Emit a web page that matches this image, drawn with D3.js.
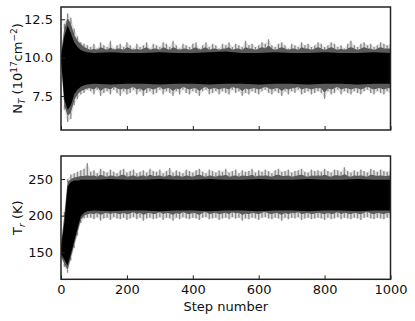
<!DOCTYPE html>
<html>
<head>
<meta charset="utf-8">
<script src="https://cdn.jsdelivr.net/npm/d3@7"></script>
<style>
  body { margin: 0; background: #fff; }
  svg text { font-family: "DejaVu Sans", sans-serif; fill: #111; }
</style>
</head>
<body>
<div id="chart"></div>
<script>
const steps = d3.range(0, 1001, 10)
const coreSteps = [0, 10, 20, 30, 40, 50, 60, 70, 80, 100, 150, 200, 250, 300, 350, 400, 450, 500,
  550, 600, 650, 700, 750, 800, 850, 900, 950, 1000]
const xTicks = [0, 200, 400, 600, 800, 1000]

// N_T panel
const nOuterHi = [10.3, 12.2, 12.9, 12.6, 11.9, 11.4, 11.0, 10.9, 10.8,
  10.7, 10.9, 10.6, 11.0, 10.8, 10.7, 11.1, 10.6, 10.8, 10.9,
  10.7, 11.0, 10.8, 10.6, 10.9, 10.7, 10.8, 11.0, 10.6, 10.9,
  10.8, 10.7, 11.0, 10.9, 10.7, 11.1, 10.8, 10.6, 10.9, 10.8,
  10.7, 10.9, 11.0, 10.6, 10.8, 11.0, 10.7, 10.9, 10.8, 10.6,
  10.9, 10.8, 11.0, 10.7, 10.9, 10.8, 10.7, 11.1, 10.8, 10.9,
  10.7, 10.8, 11.0, 10.9, 11.2, 10.8, 10.7, 10.9, 11.0, 10.8,
  10.6, 10.9, 10.8, 10.7, 11.0, 10.8, 10.9, 10.7, 10.8, 11.0,
  10.9, 10.7, 10.8, 11.0, 10.9, 10.7, 10.8, 10.6, 10.9, 11.1,
  10.8, 10.7, 10.9, 11.0, 10.8, 10.9, 10.7, 10.8, 11.0, 10.9,
  10.8, 10.9]
const nOuterLo = [9.7, 6.6, 5.8, 6.0, 6.9, 7.3, 7.6, 7.7, 7.9,
  7.8, 7.6, 7.9, 7.5, 7.7, 7.8, 7.6, 7.9, 7.7, 7.5,
  7.8, 7.6, 7.7, 7.9, 7.6, 7.8, 7.5, 7.7, 7.8, 7.6,
  7.7, 7.9, 7.6, 7.8, 7.7, 7.5, 7.8, 7.6, 7.9, 7.7,
  7.6, 7.8, 7.7, 7.5, 7.8, 7.9, 7.6, 7.7, 7.8, 7.6,
  7.8, 7.7, 7.6, 7.9, 7.7, 7.8, 7.5, 7.7, 7.6, 7.8,
  7.7, 7.6, 7.8, 7.9, 7.7, 7.6, 7.8, 7.7, 7.5, 7.8,
  7.6, 7.8, 7.7, 7.9, 7.6, 7.7, 7.8, 7.6, 7.7, 7.8,
  7.7, 7.3, 7.8, 7.6, 7.7, 7.9, 7.6, 7.8, 7.7, 7.6,
  7.8, 7.7, 7.6, 7.8, 7.9, 7.7, 7.6, 7.8, 7.7, 7.6,
  7.8, 7.7]
const nMidHi = [10.2, 11.9, 12.6, 12.2, 11.5, 11.1, 10.9, 10.7, 10.6,
  10.5, 10.6, 10.5, 10.7, 10.6, 10.5, 10.7, 10.5, 10.6, 10.6,
  10.5, 10.7, 10.6, 10.5, 10.6, 10.5, 10.6, 10.7, 10.5, 10.6,
  10.6, 10.5, 10.7, 10.6, 10.5, 10.7, 10.6, 10.5, 10.6, 10.6,
  10.5, 10.6, 10.7, 10.5, 10.6, 10.7, 10.5, 10.6, 10.6, 10.5,
  10.6, 10.6, 10.7, 10.5, 10.6, 10.6, 10.5, 10.7, 10.6, 10.6,
  10.5, 10.6, 10.7, 10.6, 10.8, 10.6, 10.5, 10.6, 10.7, 10.6,
  10.5, 10.6, 10.6, 10.5, 10.7, 10.6, 10.6, 10.5, 10.6, 10.7,
  10.6, 10.5, 10.6, 10.7, 10.6, 10.5, 10.6, 10.5, 10.6, 10.7,
  10.6, 10.5, 10.6, 10.7, 10.6, 10.6, 10.5, 10.6, 10.7, 10.6,
  10.6, 10.6]
const nMidLo = [9.8, 6.9, 6.2, 6.4, 7.2, 7.6, 7.8, 7.9, 8.0,
  8.0, 7.9, 8.1, 7.8, 8.0, 8.0, 7.9, 8.1, 8.0, 7.9,
  8.0, 7.9, 8.0, 8.1, 7.9, 8.0, 7.8, 8.0, 8.0, 7.9,
  8.0, 8.1, 7.9, 8.0, 8.0, 7.8, 8.0, 7.9, 8.1, 8.0,
  7.9, 8.0, 8.0, 7.8, 8.0, 8.1, 7.9, 8.0, 8.0, 7.9,
  8.0, 8.0, 7.9, 8.1, 8.0, 8.0, 7.8, 8.0, 7.9, 8.0,
  8.0, 7.9, 8.0, 8.1, 8.0, 7.9, 8.0, 8.0, 7.8, 8.0,
  7.9, 8.0, 8.0, 8.1, 7.9, 8.0, 8.0, 7.9, 8.0, 8.0,
  8.0, 7.7, 8.0, 7.9, 8.0, 8.1, 7.9, 8.0, 8.0, 7.9,
  8.0, 8.0, 7.9, 8.0, 8.1, 8.0, 7.9, 8.0, 8.0, 7.9,
  8.0, 8.0]
const nCoreHi = [10.05, 11.4, 12.1, 11.6, 11.0, 10.7, 10.5, 10.4, 10.35,
  10.3, 10.35, 10.3, 10.3, 10.35, 10.3, 10.3, 10.35, 10.4, 10.3,
  10.3, 10.35, 10.3, 10.3, 10.35, 10.3, 10.3, 10.35, 10.3]
const nCoreLo = [9.95, 7.3, 6.6, 6.9, 7.6, 7.9, 8.1, 8.2, 8.25,
  8.3, 8.25, 8.3, 8.3, 8.25, 8.3, 8.3, 8.25, 8.3, 8.3,
  8.25, 8.3, 8.3, 8.25, 8.3, 8.3, 8.25, 8.3, 8.3]
const nTicks = [7.5, 10.0, 12.5]

// T_r panel
const tOuterHi = [162, 205, 250, 256, 258, 260, 262, 264, 272,
  260, 262, 258, 264, 261, 259, 263, 260, 258, 262,
  264, 259, 261, 263, 258, 260, 262, 259, 264, 261,
  260, 263, 258, 261, 265, 259, 262, 260, 258, 263,
  261, 259, 262, 264, 260, 258, 263, 261, 259, 262,
  260, 264, 259, 261, 263, 258, 262, 260, 261, 264,
  259, 262, 260, 263, 261, 258, 262, 264, 260, 261,
  263, 259, 261, 262, 264, 260, 259, 263, 261, 262,
  260, 264, 261, 259, 263, 262, 260, 266, 261, 259,
  262, 260, 263, 261, 259, 264, 262, 260, 263, 261,
  260, 262]
const tOuterLo = [143, 130, 122, 139, 156, 173, 190, 196, 197,
  197, 195, 198, 193, 196, 197, 194, 198, 196, 195,
  197, 194, 196, 198, 195, 197, 193, 196, 197, 195,
  196, 198, 194, 197, 196, 193, 197, 195, 198, 196,
  195, 197, 196, 194, 197, 198, 195, 196, 197, 194,
  196, 197, 195, 198, 196, 197, 193, 196, 195, 197,
  196, 194, 197, 198, 196, 195, 197, 196, 193, 197,
  195, 197, 196, 198, 194, 196, 197, 195, 196, 197,
  196, 194, 197, 195, 196, 198, 195, 197, 196, 195,
  197, 196, 194, 197, 198, 196, 195, 197, 196, 195,
  197, 196]
const tMidHi = [160, 200, 246, 250, 252, 253, 254, 254, 255,
  254, 255, 253, 256, 254, 253, 255, 254, 253, 255,
  256, 253, 254, 255, 253, 254, 255, 253, 256, 254,
  254, 255, 253, 254, 256, 253, 255, 254, 253, 255,
  254, 253, 255, 256, 254, 253, 255, 254, 253, 255,
  254, 256, 253, 254, 255, 253, 255, 254, 254, 256,
  253, 255, 254, 255, 254, 253, 255, 256, 254, 254,
  255, 253, 254, 255, 256, 254, 253, 255, 254, 255,
  254, 256, 254, 253, 255, 255, 254, 257, 254, 253,
  255, 254, 255, 254, 253, 256, 255, 254, 255, 254,
  254, 255]
const tMidLo = [145, 134, 126, 143, 160, 177, 194, 200, 202,
  203, 202, 204, 201, 203, 204, 202, 204, 203, 202,
  204, 202, 203, 205, 202, 204, 201, 203, 204, 202,
  203, 205, 202, 204, 203, 201, 204, 202, 205, 203,
  202, 204, 203, 201, 204, 205, 202, 203, 204, 202,
  203, 204, 202, 205, 203, 204, 201, 203, 202, 204,
  203, 202, 204, 205, 203, 202, 204, 203, 201, 204,
  202, 204, 203, 205, 202, 203, 204, 202, 203, 204,
  203, 202, 204, 202, 203, 205, 202, 204, 203, 202,
  204, 203, 202, 204, 205, 203, 202, 204, 203, 202,
  204, 203]
const tCoreHi = [157, 190, 240, 246, 248, 248, 249, 249, 249,
  249, 250, 249, 249, 250, 249, 249, 250, 249, 249,
  250, 249, 249, 250, 249, 249, 250, 249, 249]
const tCoreLo = [148, 140, 132, 148, 165, 182, 199, 204, 206,
  207, 206, 207, 207, 206, 207, 207, 206, 207, 207,
  206, 207, 207, 206, 207, 207, 206, 207, 207]
const tTicks = [150, 200, 250]

const width = 415
const height = 321
const left = 61
const right = 390.5

const svg = d3.select('#chart').append('svg').attr('width', width).attr('height', height)

const x = d3.scaleLinear().domain([0, 1000]).range([left, right])

function drawPanel(cfg) {
  const y = d3.scaleLinear().domain(cfg.domain).range([cfg.bottom, cfg.top])
  const g = svg.append('g')

  // clip the traces to the axes box
  g.append('clipPath')
    .attr('id', cfg.id)
    .append('rect')
    .attr('x', left)
    .attr('y', cfg.top)
    .attr('width', right - left)
    .attr('height', cfg.bottom - cfg.top)

  const traces = g.append('g').attr('clip-path', `url(#${cfg.id})`)

  const band = (st, lo, hi) =>
    d3.area()
      .x((d, i) => x(st[i]))
      .y0((d, i) => y(lo[i]))
      .y1((d, i) => y(hi[i]))(st)

  // faint envelope, then thin spikes out to the extreme values
  traces.append('path').attr('d', band(steps, cfg.outerLo, cfg.outerHi)).attr('fill', '#000').attr('fill-opacity', 0.12)

  const spikes = traces.append('g').attr('stroke', '#000').attr('stroke-opacity', 0.38).attr('stroke-width', 1.3)
  spikes.selectAll('line.hi')
    .data(steps)
    .join('line')
    .attr('class', 'hi')
    .attr('x1', d => x(d))
    .attr('x2', d => x(d))
    .attr('y1', (d, i) => y(cfg.midHi[i]))
    .attr('y2', (d, i) => y(cfg.outerHi[i]))
  spikes.selectAll('line.lo')
    .data(steps)
    .join('line')
    .attr('class', 'lo')
    .attr('x1', d => x(d))
    .attr('x2', d => x(d))
    .attr('y1', (d, i) => y(cfg.midLo[i]))
    .attr('y2', (d, i) => y(cfg.outerLo[i]))

  traces.append('path').attr('d', band(steps, cfg.midLo, cfg.midHi)).attr('fill', '#000').attr('fill-opacity', 0.6)
  traces.append('path').attr('d', band(coreSteps, cfg.coreLo, cfg.coreHi)).attr('fill', '#000')

  // inward ticks
  const yAxis = d3.axisLeft(y).tickValues(cfg.ticks).tickFormat(d3.format(cfg.fmt)).tickSizeInner(-4).tickSizeOuter(0).tickPadding(8)
  const gy = g.append('g').attr('transform', `translate(${left},0)`).call(yAxis)
  gy.select('.domain').remove()
  gy.selectAll('.tick line').attr('stroke', '#222')
  gy.selectAll('.tick text').attr('font-size', 13).attr('fill', '#111')

  const xAxis = d3.axisBottom(x).tickValues(xTicks).tickSizeInner(-4).tickSizeOuter(0).tickPadding(5)
    .tickFormat(cfg.xLabels ? d3.format('d') : '')
  const gx = g.append('g').attr('transform', `translate(0,${cfg.bottom})`).call(xAxis)
  gx.select('.domain').remove()
  gx.selectAll('.tick line').attr('stroke', '#222')
  gx.selectAll('.tick text').attr('font-size', 13).attr('fill', '#111')

  // frame
  g.append('rect')
    .attr('x', left)
    .attr('y', cfg.top)
    .attr('width', right - left)
    .attr('height', cfg.bottom - cfg.top)
    .attr('fill', 'none')
    .attr('stroke', '#222')
    .attr('stroke-width', 1.5)

  // y label
  const label = g.append('text')
    .attr('transform', `translate(22,${(cfg.top + cfg.bottom) / 2}) rotate(-90)`)
    .attr('text-anchor', 'middle')
    .attr('font-size', 13)
  cfg.label.forEach(part => {
    label.append('tspan')
      .attr('dy', part.dy || 0)
      .attr('font-size', part.size || 13)
      .attr('font-style', part.italic ? 'italic' : null)
      .text(part.t)
  })
}

drawPanel({
  id: 'clipN', top: 7, bottom: 130, domain: [5.28, 13.3], ticks: nTicks, fmt: '.1f', xLabels: false,
  outerHi: nOuterHi, outerLo: nOuterLo, midHi: nMidHi, midLo: nMidLo, coreHi: nCoreHi, coreLo: nCoreLo,
  label: [
    { t: 'N' },
    { t: 'T', size: 9, italic: true, dy: 3 },
    { t: ' (10', dy: -3 },
    { t: '17', size: 9, dy: -5 },
    { t: 'cm', dy: 5 },
    { t: '\u22122', size: 9, dy: -5 },
    { t: ')', dy: 5 }
  ]
})

drawPanel({
  id: 'clipT', top: 156, bottom: 279.3, domain: [113.2, 281.4], ticks: tTicks, fmt: 'd', xLabels: true,
  outerHi: tOuterHi, outerLo: tOuterLo, midHi: tMidHi, midLo: tMidLo, coreHi: tCoreHi, coreLo: tCoreLo,
  label: [
    { t: 'T' },
    { t: 'r', size: 9, italic: true, dy: 3 },
    { t: ' (K)', dy: -3 }
  ]
})

svg.append('text')
  .attr('x', (left + right) / 2)
  .attr('y', 311)
  .attr('text-anchor', 'middle')
  .attr('font-size', 13)
  .text('Step number')
</script>
</body>
</html>
